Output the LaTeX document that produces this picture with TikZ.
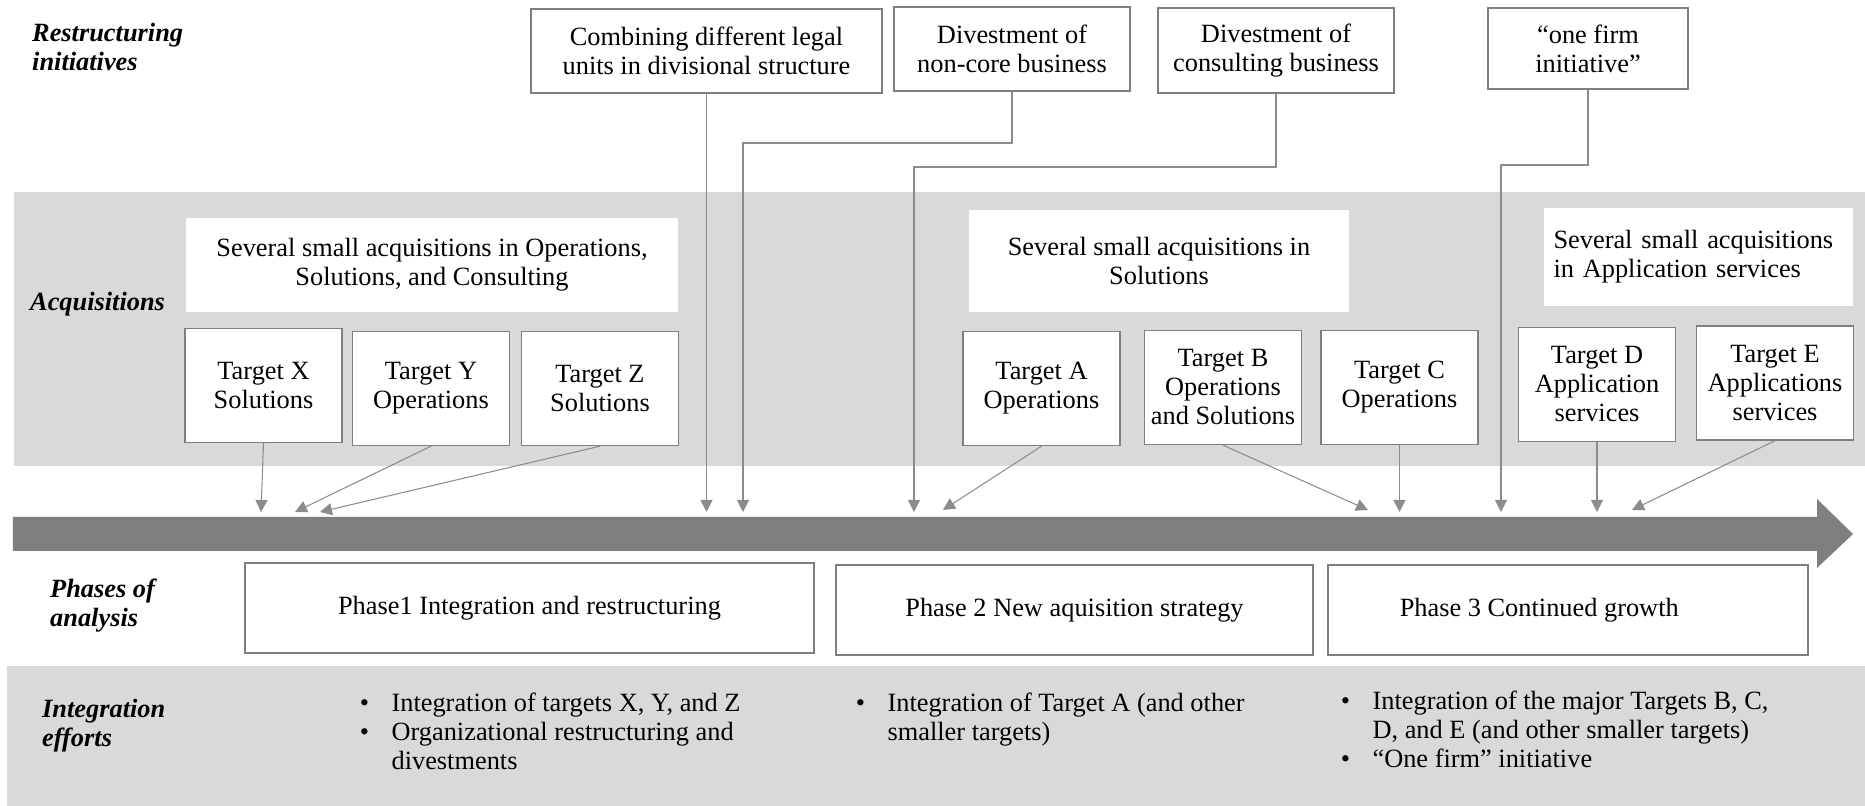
\documentclass[tikz,border=0pt]{standalone}
\usepackage{fontspec}
\setmainfont{Liberation Serif}
\usepackage{tikz}
\usetikzlibrary{arrows.meta}
\definecolor{bandgray}{RGB}{217,217,217}
\definecolor{bargray}{RGB}{127,127,127}
\definecolor{linegray}{RGB}{140,140,140}

\begin{document}
\begin{tikzpicture}[>={Triangle[length=2.4mm,width=2.4mm]},
	font=\fontsize{15}{16.5}\selectfont,
	box/.style={draw=bargray, line width=0.8pt, fill=white, align=center, inner sep=0pt},
	target/.style={box, minimum width=3.14cm, minimum height=2.28cm},
	phase/.style={box, minimum height=1.8cm},
	note/.style={fill=white, inner sep=0pt, align=center},
	rowlabel/.style={anchor=west, align=left, font=\fontsize{15}{16.5}\selectfont\bfseries\itshape},
	conn/.style={draw=linegray, line width=0.6pt},
	bullets/.style={anchor=north west, inner sep=0pt}]
	\useasboundingbox (0,0) rectangle (37.3,16.12);
	%Bande grigie
	\fill [bandgray] (0.27,6.8) rectangle (37.3,12.28);
	\fill [bandgray] (0.14,0) rectangle (37.3,2.8);
	%Freccia del tempo
	\fill [bargray] (0.26,5.1) -- (36.34,5.1) -- (36.34,4.76) -- (37.06,5.44) -- (36.34,6.14) -- (36.34,5.78) -- (0.26,5.78) -- cycle;
	\coordinate (tl) at (0,5.88);
	%Etichette
	\node [rowlabel] (lRestr) at (0.52,15.18) {Restructuring\\initiatives};
	\node [rowlabel] (lAcq) at (0.48,10.04) {Acquisitions};
	\node [rowlabel] (lPhase) at (0.88,4.0) {Phases of\\analysis};
	\node [rowlabel] (lInt) at (0.72,1.6) {Integration\\efforts};
	%Ristrutturazioni
	\node [box, minimum width=7.02cm, minimum height=1.68cm] (combine) at (14.13,15.1) {Combining different legal\\units in divisional structure};
	\node [box, minimum width=4.72cm, minimum height=1.68cm] (noncore) at (20.24,15.14) {Divestment of\\non-core business};
	\node [box, minimum width=4.72cm, minimum height=1.7cm] (consult) at (25.52,15.11) {Divestment of\\consulting business};
	\node [box, minimum width=4.0cm, minimum height=1.62cm] (onefirm) at (31.76,15.15) {``one firm\\initiative''};
	%Acquisizioni
	\node [note, minimum width=9.84cm, minimum height=1.88cm] (acq1) at (8.64,10.82) {Several small acquisitions in Operations,\\Solutions, and Consulting};
	\node [note, minimum width=7.6cm, minimum height=2.04cm] (acq2) at (23.18,10.9) {Several small acquisitions in\\Solutions};
	\node [note, align=left, text width=5.8cm, inner xsep=0.19cm, minimum height=1.96cm] (acq3) at (33.97,10.98) {Several small acquisitions\\in Application services};
	\node [target] (tX) at (5.27,8.41) {Target X\\Solutions};
	\node [target] (tY) at (8.62,8.35) {Target Y\\Operations};
	\node [target] (tZ) at (12.0,8.35) {Target Z\\Solutions};
	\node [target] (tA) at (20.83,8.35) {Target A\\Operations};
	\node [target] (tB) at (24.46,8.37) {Target B\\Operations\\and Solutions};
	\node [target] (tC) at (27.99,8.37) {Target C\\Operations};
	\node [target] (tD) at (31.94,8.43) {Target D\\Application\\services};
	\node [target] (tE) at (35.5,8.46) {Target E\\Applications\\services};
	%Fasi
	\node [phase, minimum width=11.38cm] (p1) at (10.59,3.96) {Phase1 Integration and restructuring};
	\node [phase, minimum width=9.54cm] (p2) at (21.49,3.92) {Phase 2 New aquisition strategy};
	\node [phase, minimum width=9.6cm] (p3) at (31.36,3.92) {Phase 3 Continued growth\hspace*{1.15cm}};
	%Integrazione
	\node [bullets] (b1) at (7.19,2.3) {\begin{tabular}{@{}l@{\hspace{0.45cm}}l@{}}
		\textbullet & Integration of targets X, Y, and Z\\
		\textbullet & Organizational restructuring and\\
		 & divestments
	\end{tabular}};
	\node [bullets] (b2) at (17.11,2.3) {\begin{tabular}{@{}l@{\hspace{0.45cm}}l@{}}
		\textbullet & Integration of Target A (and other\\
		 & smaller targets)
	\end{tabular}};
	\node [bullets] (b3) at (26.81,2.34) {\begin{tabular}{@{}l@{\hspace{0.45cm}}l@{}}
		\textbullet & Integration of the major Targets B, C,\\
		 & D, and E (and other smaller targets)\\
		\textbullet & ``One firm'' initiative
	\end{tabular}};
	%Frecce
	\coordinate (eX) at (5.22,5.88);
	\coordinate (eY) at (5.90,5.88);
	\coordinate (eZ) at (6.40,5.88);
	\coordinate (eA) at (18.86,5.92);
	\coordinate (eB) at (27.36,5.92);
	\coordinate (eE) at (32.64,5.92);
	\coordinate (kNC) at (14.86,13.26);
	\coordinate (kCons) at (18.28,12.78);
	\coordinate (kOne) at (30.02,12.82);
	\draw [conn, ->] (combine.south) -- (combine.south |- tl);
	\draw [conn, ->] (noncore.south) |- (kNC) -- (kNC |- tl);
	\draw [conn, ->] (consult.south) |- (kCons) -- (kCons |- tl);
	\draw [conn, ->] (onefirm.south) |- (kOne) -- (kOne |- tl);
	\draw [conn, ->] (tX.south) -- (eX);
	\draw [conn, ->] (tY.south) -- (eY);
	\draw [conn, ->] (tZ.south) -- (eZ);
	\draw [conn, ->] (tA.south) -- (eA);
	\draw [conn, ->] (tB.south) -- (eB);
	\draw [conn, ->] (tC.south) -- (tC.south |- tl);
	\draw [conn, ->] (tD.south) -- (tD.south |- tl);
	\draw [conn, ->] (tE.south) -- (eE);
\end{tikzpicture}
\end{document}
